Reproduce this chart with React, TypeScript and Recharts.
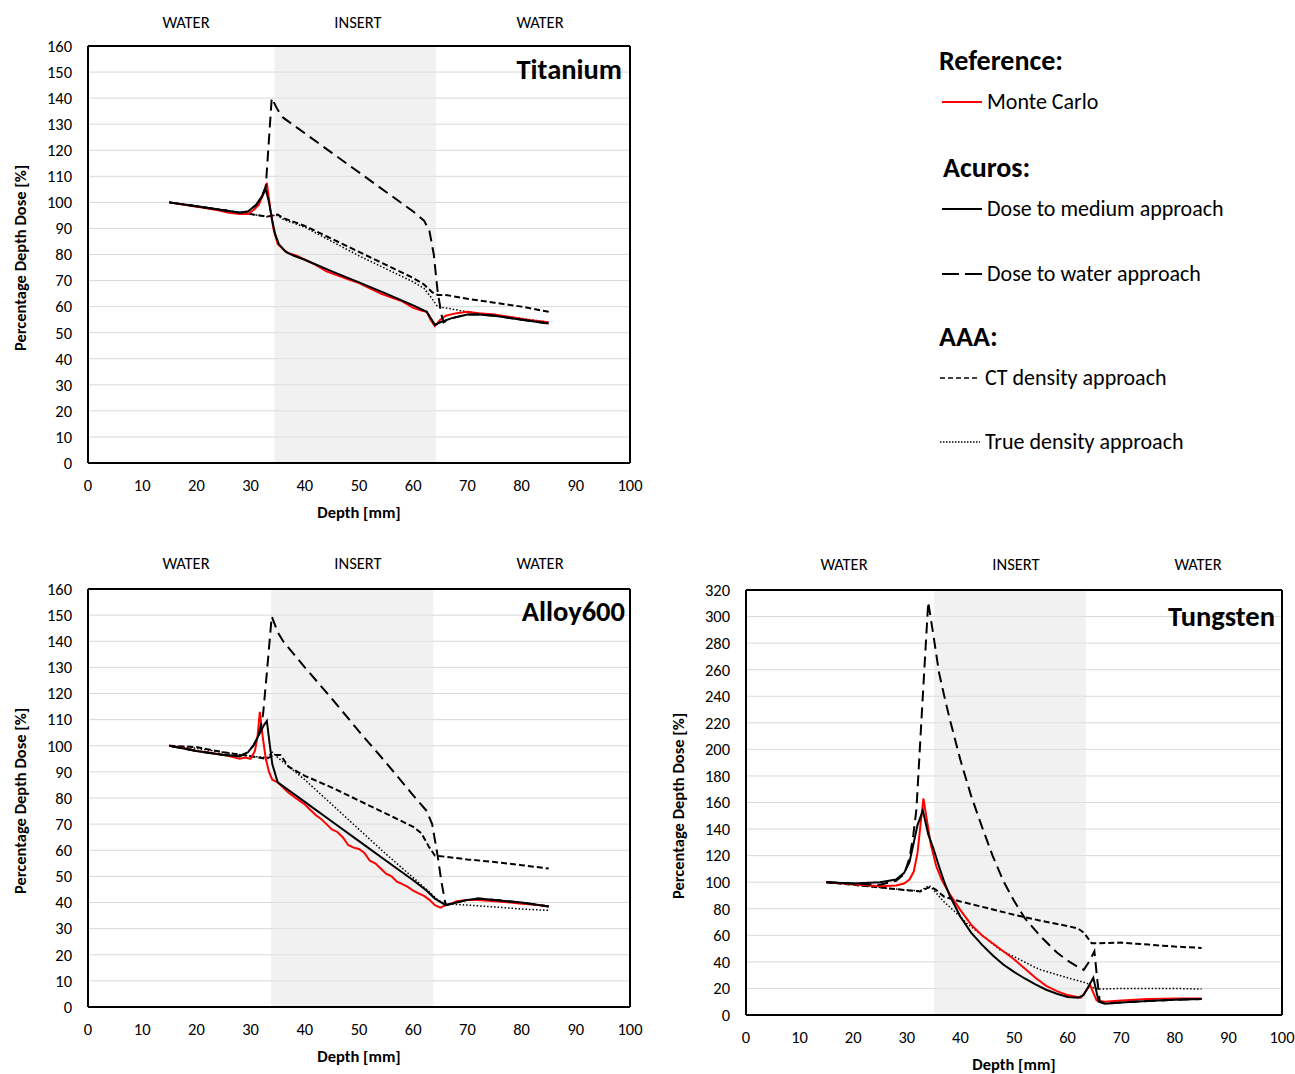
import { LineChart, Line, XAxis, YAxis, CartesianGrid, ReferenceArea, ReferenceLine } from 'recharts'

type Pt = [number, number]

const FONT = 'Carlito, Lato, sans-serif'

const depthTicks = [0, 10, 20, 30, 40, 50, 60, 70, 80, 90, 100]
const pddTicks160 = [0, 10, 20, 30, 40, 50, 60, 70, 80, 90, 100, 110, 120, 130, 140, 150, 160]
const pddTicks320 = [0, 20, 40, 60, 80, 100, 120, 140, 160, 180, 200, 220, 240, 260, 280, 300, 320]
const regionLabels = ['WATER', 'INSERT', 'WATER']

// Titanium
const tiMC: Pt[] = [[15, 100], [18, 99], [21, 98], [24, 97], [26, 96], [28, 95.5], [29.5, 95.5], [30.5, 97], [31.5, 99], [32.3, 103], [33, 107.5], [33.6, 98], [34.2, 90], [35, 84], [36, 82], [37, 80.5], [38.5, 79.5], [40, 78], [42, 76], [44, 73.5], [46, 72], [48, 70.5], [50, 69], [52, 67], [54, 65], [56, 63.5], [58, 62], [60, 59.5], [61.5, 58.5], [62.5, 58], [63.2, 55], [64, 52.5], [65, 55], [66, 56.5], [68, 57.5], [70, 58], [72, 57.5], [75, 57], [78, 56], [81, 55], [83, 54.5], [85, 54]]
const tiMedium: Pt[] = [[15, 100], [20, 98.5], [25, 97], [28, 96], [29.5, 96.5], [31, 99], [32, 102], [32.8, 105], [33.4, 100], [34, 93], [34.5, 88], [35.2, 84], [36.5, 81], [38, 79.5], [40, 78], [45, 73.5], [50, 69.3], [55, 65], [60, 60.5], [62.5, 58], [64, 53], [65, 54], [67, 55.5], [70, 57], [72, 57], [75, 56.5], [80, 55], [85, 53.5]]
const tiWater: Pt[] = [[15, 100], [20, 98.5], [25, 97], [28, 96], [29.5, 96.5], [31, 99], [32, 102], [32.8, 106], [33.9, 140], [35, 135.5], [36, 132.5], [40, 126.5], [45, 119], [50, 111.5], [55, 104], [60, 96.5], [62, 93], [63, 89], [63.8, 80], [64.5, 66], [65.2, 57], [65.6, 54], [67, 55.5], [70, 57], [72, 57], [75, 56.5], [80, 55], [85, 53.5]]
const tiCT: Pt[] = [[15, 100], [20, 98.5], [25, 97], [30, 95.5], [33, 94.5], [34, 95], [35, 95.3], [36, 94], [40, 91], [45, 86], [50, 81], [55, 76], [60, 71], [62, 68.5], [63.5, 65.5], [64.5, 64.5], [66, 64.5], [70, 63], [75, 61.5], [80, 60], [85, 58]]
const tiTrue: Pt[] = [[15, 100], [20, 98.5], [25, 97], [30, 95.5], [33, 94.5], [34, 95], [35, 95], [36, 93.5], [40, 90.5], [45, 85], [50, 79.5], [55, 74.5], [60, 69.5], [62, 67], [63.5, 63], [64.5, 60], [66, 59.5], [70, 58], [75, 56.5], [80, 55.5], [85, 54]]

// Alloy600
const alMC: Pt[] = [[15, 100], [18, 99], [20, 98], [22, 97.5], [25, 96.5], [28, 95], [29, 95.5], [30, 95], [30.8, 98], [31.3, 104], [31.7, 113], [32.2, 104], [32.8, 95], [33.4, 90], [34, 87], [35, 86], [36, 84], [37, 82], [38, 80.5], [39, 79], [40, 77.5], [41, 75.5], [42, 73.5], [43, 72], [44, 70], [45, 68], [46, 67], [47, 65], [48, 62], [49, 61], [50, 60.5], [51, 59], [52, 56], [53, 55], [54, 53], [55, 51], [56, 50], [57, 48], [58, 47], [59, 46], [60, 44.5], [61, 43.5], [62, 42.5], [63, 41], [64, 39], [65, 38], [66, 39], [67, 39.5], [68, 40.5], [70, 41], [72, 41], [75, 40.5], [78, 40], [80, 39.5], [83, 39], [85, 38.5]]
const alMedium: Pt[] = [[15, 100], [20, 98], [25, 96.5], [28, 96], [29.5, 97.5], [30.5, 100], [31.5, 104], [32.5, 108], [33, 109.5], [33.5, 101], [34, 93], [35, 86], [40, 78.5], [45, 71], [50, 63.5], [55, 56], [60, 48.5], [62.5, 44.5], [64, 41.5], [66, 39], [68, 40], [70, 41], [72, 41.5], [75, 41], [80, 40], [85, 38.5]]
const alWater: Pt[] = [[15, 100], [20, 98], [25, 96.5], [28, 96], [29.5, 97.5], [30.5, 100], [31.5, 104], [32.3, 112], [33, 128], [33.9, 149.5], [35, 143.5], [36, 140], [40, 130], [45, 118], [50, 105.5], [55, 93.5], [60, 81], [62.5, 75], [63.5, 70], [64.5, 58], [65.2, 48], [66, 39], [68, 40], [70, 41], [72, 41.5], [75, 41], [80, 40], [85, 38.5]]
const alCT: Pt[] = [[15, 100], [20, 99.5], [25, 97.5], [30, 96], [33, 95], [34.2, 96.5], [35.5, 96.5], [37, 92], [40, 88.5], [45, 84], [50, 79], [55, 74], [60, 69], [61.5, 66.5], [63, 61], [64, 58], [66, 57.5], [70, 56.5], [75, 55.5], [80, 54.3], [85, 53]]
const alTrue: Pt[] = [[15, 100], [20, 99], [25, 97.5], [30, 96], [33, 95.5], [34, 97.5], [35, 95.5], [40, 87], [45, 77.5], [50, 68], [55, 58.5], [60, 49.5], [63, 44], [64.5, 41], [66, 39.5], [70, 39], [75, 38.3], [80, 37.5], [85, 37]]

// Tungsten
const tuMC: Pt[] = [[15, 100], [20, 98.5], [25, 97], [28, 97.5], [29.5, 99], [30.5, 102], [31.3, 108], [32, 122], [32.6, 145], [33.1, 163], [33.7, 148], [34.5, 128], [35.5, 112], [36.5, 102], [38, 91], [40, 79], [42, 68], [44, 60], [46, 54], [48, 48], [50, 42], [52, 35], [54, 28], [56, 22], [58, 18], [60, 15], [62.5, 13], [64.2, 22.5], [65.4, 11], [67, 10], [70, 11], [75, 12], [80, 12.5], [85, 12.5]]
const tuMedium: Pt[] = [[15, 100], [20, 99], [25, 100], [28, 102], [29.5, 107], [30.5, 115], [31.2, 128], [32, 143], [33, 154], [33.5, 145], [34, 136], [35, 125], [36, 112], [37, 100], [38, 90], [40, 74], [42, 62], [44, 53], [46, 45], [48, 38], [50, 32.5], [52, 27.5], [54, 23], [56, 19], [58, 16], [60, 13.5], [62, 13], [63, 15], [64.8, 28], [65.8, 10], [67, 8.5], [70, 9.5], [75, 10.5], [80, 11.5], [85, 12]]
const tuWater: Pt[] = [[15, 100], [20, 99], [25, 98], [28, 101], [29.5, 106], [30.5, 118], [31.2, 135], [31.8, 155], [32.8, 227], [34, 311], [35, 285], [36, 258], [37, 240], [38, 223], [40, 192], [42, 165], [44, 142], [46, 120], [48, 101], [50, 86], [52, 73], [55, 59], [58, 47], [60, 41], [62, 36], [63, 34], [64, 40], [65, 48], [65.5, 28], [66, 10], [67, 8.5], [70, 9.5], [75, 10.5], [80, 11.5], [85, 12]]
const tuCT: Pt[] = [[15, 100], [20, 98], [25, 96], [30, 94], [32.5, 93], [33.5, 95], [34.5, 96.5], [35.5, 94], [37, 89], [40, 85.5], [45, 80.5], [50, 75.5], [55, 71], [60, 67], [62, 65], [63, 62], [64.5, 54], [66, 54], [70, 54.5], [75, 53], [80, 51.5], [85, 50.5]]
const tuTrue: Pt[] = [[15, 100], [20, 98], [25, 96], [30, 94], [32.5, 93.5], [33.5, 96], [34.2, 97.5], [35, 94], [37, 85], [40, 74], [41.2, 69], [45, 57], [47.4, 49], [50, 44], [53.6, 36.5], [55, 34], [60, 28], [63.6, 24], [65, 20], [66, 19.5], [70, 20], [75, 20], [80, 20], [85, 19.5]]

const toRows = (pts: Pt[]) => pts.map(([d, v]) => ({ d, v }))

interface PanelProps {
  title: string
  plotLeft: number
  plotTop: number
  plotRight: number
  plotBottom: number
  yMax: number
  yTicks: number[]
  insert: [number, number]
  mc: Pt[]
  medium: Pt[]
  water: Pt[]
  ct: Pt[]
  truth: Pt[]
  labelY: number
  titleY: number
  titleRight: number
}

const YW = 60
const PAD = 20
const labelOffsets = [98, 270, 452]

function Panel(p: PanelProps) {
  const plotW = p.plotRight - p.plotLeft
  const plotH = p.plotBottom - p.plotTop
  const width = YW + plotW + PAD
  const height = PAD + plotH + 40
  const tickStyle = { fontSize: 16.5, fill: '#000', fontFamily: FONT }

  return (
    <>
      {regionLabels.map((t, i) => (
        <div
          key={i}
          style={{
            position: 'absolute',
            left: p.plotLeft + labelOffsets[i] - 60,
            top: p.labelY - 11,
            width: 120,
            textAlign: 'center',
            fontSize: 16.5,
            lineHeight: '22px',
            fontFamily: FONT,
          }}
        >
          {t}
        </div>
      ))}
      <div style={{ position: 'absolute', left: p.plotLeft - YW, top: p.plotTop - PAD }}>
        <LineChart width={width} height={height} margin={{ top: PAD, right: PAD, left: 0, bottom: 0 }}>
          <CartesianGrid vertical={false} stroke="#d9d9d9" strokeWidth={1} />
          <ReferenceArea x1={p.insert[0]} x2={p.insert[1]} y1={0} y2={p.yMax} fill="#e3e3e3" fillOpacity={0.5} stroke="none" />
          <XAxis
            type="number"
            dataKey="d"
            domain={[0, 100]}
            ticks={depthTicks}
            interval={0}
            tickLine={false}
            tickMargin={10}
            axisLine={{ stroke: '#000', strokeWidth: 2 }}
            tick={tickStyle}
            height={40}
            allowDataOverflow
          />
          <YAxis
            type="number"
            domain={[0, p.yMax]}
            ticks={p.yTicks}
            interval={0}
            tickLine={false}
            tickMargin={10}
            axisLine={{ stroke: '#000', strokeWidth: 2 }}
            tick={tickStyle}
            width={YW}
            allowDataOverflow
          />
          <ReferenceLine y={p.yMax} stroke="#000" strokeWidth={2} />
          <ReferenceLine x={100} stroke="#000" strokeWidth={2} />
          <Line data={toRows(p.truth)} dataKey="v" type="linear" stroke="#000" strokeWidth={1.5} strokeDasharray="1.5 2" dot={false} isAnimationActive={false} />
          <Line data={toRows(p.ct)} dataKey="v" type="linear" stroke="#000" strokeWidth={2} strokeDasharray="6 3" dot={false} isAnimationActive={false} />
          <Line data={toRows(p.mc)} dataKey="v" type="linear" stroke="#ff0000" strokeWidth={2} dot={false} isAnimationActive={false} />
          <Line data={toRows(p.medium)} dataKey="v" type="linear" stroke="#000" strokeWidth={2} dot={false} isAnimationActive={false} />
          <Line data={toRows(p.water)} dataKey="v" type="linear" stroke="#000" strokeWidth={2} strokeDasharray="11 6" dot={false} isAnimationActive={false} />
        </LineChart>
      </div>
      <div
        style={{
          position: 'absolute',
          left: p.titleRight - 220,
          top: p.titleY - 18,
          width: 220,
          textAlign: 'right',
          fontSize: 28.5,
          fontWeight: 700,
          lineHeight: '36px',
          fontFamily: FONT,
        }}
      >
        {p.title}
      </div>
      <div
        style={{
          position: 'absolute',
          left: p.plotLeft + plotW / 2 - 100,
          top: p.plotBottom + 38,
          width: 200,
          textAlign: 'center',
          fontSize: 16.5,
          fontWeight: 700,
          lineHeight: '22px',
          fontFamily: FONT,
        }}
      >
        Depth [mm]
      </div>
      <div
        style={{
          position: 'absolute',
          left: p.plotLeft - 68 - 140,
          top: (p.plotTop + p.plotBottom) / 2 - 11 + 3,
          width: 280,
          textAlign: 'center',
          fontSize: 16.5,
          fontWeight: 700,
          lineHeight: '22px',
          fontFamily: FONT,
          transform: 'rotate(-90deg)',
        }}
      >
        Percentage Depth Dose [%]
      </div>
    </>
  )
}

function LegendItem({ y, dash, color, width, text, x0 }: { y: number; dash?: string; color: string; width: number; text: string; x0: number }) {
  return (
    <>
      <svg style={{ position: 'absolute', left: x0, top: y - 5 }} width={42} height={10}>
        <line x1={0} y1={5} x2={40} y2={5} stroke={color} strokeWidth={width} strokeDasharray={dash} />
      </svg>
      <div style={{ position: 'absolute', left: x0 + 45, top: y - 15, fontSize: 22, lineHeight: '30px', fontFamily: FONT, whiteSpace: 'nowrap' }}>{text}</div>
    </>
  )
}

function Heading({ x, y, text }: { x: number; y: number; text: string }) {
  return (
    <div style={{ position: 'absolute', left: x, top: y - 19, fontSize: 28, fontWeight: 700, lineHeight: '38px', fontFamily: FONT, whiteSpace: 'nowrap' }}>
      {text}
    </div>
  )
}

export default function App() {
  return (
    <div style={{ position: 'absolute', left: 0, top: 0, width: 1295, height: 1074, background: '#fff', fontFamily: FONT }}>
      <Panel title="Titanium" plotLeft={88} plotTop={46} plotRight={630} plotBottom={463} yMax={160} yTicks={pddTicks160} insert={[34.4, 64.2]}
        mc={tiMC} medium={tiMedium} water={tiWater} ct={tiCT} truth={tiTrue} labelY={22} titleY={70} titleRight={622} />
      <Panel title="Alloy600" plotLeft={88} plotTop={589} plotRight={630} plotBottom={1007} yMax={160} yTicks={pddTicks160} insert={[33.8, 63.7]}
        mc={alMC} medium={alMedium} water={alWater} ct={alCT} truth={alTrue} labelY={563} titleY={612} titleRight={625} />
      <Panel title="Tungsten" plotLeft={746} plotTop={590} plotRight={1282} plotBottom={1015} yMax={320} yTicks={pddTicks320} insert={[35.1, 63.4]}
        mc={tuMC} medium={tuMedium} water={tuWater} ct={tuCT} truth={tuTrue} labelY={564} titleY={617} titleRight={1275} />

      <Heading x={939} y={61} text="Reference:" />
      <LegendItem x0={942} y={102} color="#ff0000" width={2} text="Monte Carlo" />
      <Heading x={943} y={168} text="Acuros:" />
      <LegendItem x0={942} y={209} color="#000" width={2} text="Dose to medium approach" />
      <LegendItem x0={942} y={274} color="#000" width={2} dash="17 6" text="Dose to water approach" />
      <Heading x={939} y={337} text="AAA:" />
      <LegendItem x0={940} y={378} color="#000" width={1.5} dash="5 3" text="CT density approach" />
      <LegendItem x0={940} y={442} color="#000" width={1.5} dash="1.5 1.5" text="True density approach" />
    </div>
  )
}
